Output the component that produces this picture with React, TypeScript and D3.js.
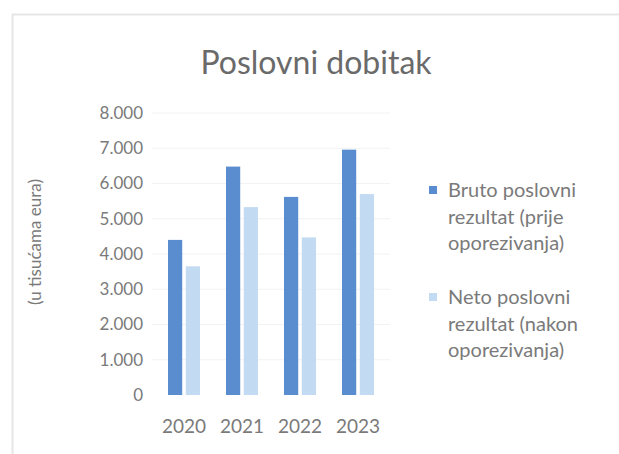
import React from "react";
import * as d3 from "d3";

const years = ["2020", "2021", "2022", "2023"];
const seriesNames = ["Bruto poslovni rezultat (prije oporezivanja)", "Neto poslovni rezultat (nakon oporezivanja)"];
const bruto = [4400, 6480, 5620, 6960];
const neto = [3650, 5330, 4470, 5700];
const yTicks = [0, 1000, 2000, 3000, 4000, 5000, 6000, 7000, 8000];
const legendLines = [
  ["Bruto poslovni", "rezultat (prije", "oporezivanja)"],
  ["Neto poslovni", "rezultat (nakon", "oporezivanja)"],
];
const colors = ["#5a8dd0", "#c2daf2"];
const title = "Poslovni dobitak";
const yTitle = "(u tisućama eura)";

const W = 619;
const H = 454;
const FONT = "Lato, 'Open Sans', sans-serif";
const TEXT = "#7a7a7a";

const locale = d3.formatLocale({ decimal: ",", thousands: ".", grouping: [3], currency: ["", "€"] });
const fmt = locale.format(",");

export default function App() {
  const y = d3.scaleLinear().domain([0, 8000]).range([395, 113]);
  const x0 = d3.scaleBand<string>().domain(years).range([155, 387]).paddingInner(0).paddingOuter(0);
  const x1 = d3.scaleBand<string>().domain(seriesNames).range([13, 45]).paddingInner(0.2);
  const data = [bruto, neto];

  return (
    <svg
      width={W}
      height={H}
      style={{ position: "absolute", left: 0, top: 0, background: "#fff", display: "block" }}
    >
      <line x1={12} x2={W} y1={14.5} y2={14.5} stroke="#e6e6e6" strokeWidth={2} />
      <line x1={12.5} x2={12.5} y1={14} y2={H} stroke="#e6e6e6" strokeWidth={2} />

      <text x={316} y={74} textAnchor="middle" fontFamily={FONT} fontSize={32} fill="#6a6a6a">
        {title}
      </text>

      {yTicks.map((t) => (
        <g key={t}>
          {t > 0 && (
            <line x1={152} x2={390} y1={y(t)} y2={y(t)} stroke="#f2f2f2" strokeWidth={1} />
          )}
          <text
            x={143}
            y={y(t)}
            dy="0.35em"
            textAnchor="end"
            fontFamily={FONT}
            fontSize={17}
            fill={TEXT}
          >
            {fmt(t)}
          </text>
        </g>
      ))}

      <text
        transform={`translate(35,242) rotate(-90)`}
        textAnchor="middle"
        dy="0.35em"
        fontFamily={FONT}
        fontSize={17}
        fill={TEXT}
      >
        {yTitle}
      </text>

      {years.map((yr, i) => (
        <g key={yr} transform={`translate(${x0(yr)},0)`}>
          {seriesNames.map((s, j) => (
            <rect
              key={s}
              x={x1(s)}
              width={x1.bandwidth()}
              y={y(data[j][i])}
              height={y(0) - y(data[j][i])}
              fill={colors[j]}
            />
          ))}
          <text
            x={x0.bandwidth() / 2}
            y={426}
            dy="0.35em"
            textAnchor="middle"
            fontFamily={FONT}
            fontSize={19}
            fill={TEXT}
          >
            {yr}
          </text>
        </g>
      ))}

      {legendLines.map((lines, j) => {
        const top = j === 0 ? 190 : 297;
        return (
          <g key={j}>
            <rect x={429} y={top - 4} width={8} height={8} fill={colors[j]} />
            {lines.map((ln, k) => (
              <text
                key={k}
                x={448}
                y={top + k * 26.5}
                dy="0.35em"
                fontFamily={FONT}
                fontSize={20}
                fill={TEXT}
              >
                {ln}
              </text>
            ))}
          </g>
        );
      })}
    </svg>
  );
}
